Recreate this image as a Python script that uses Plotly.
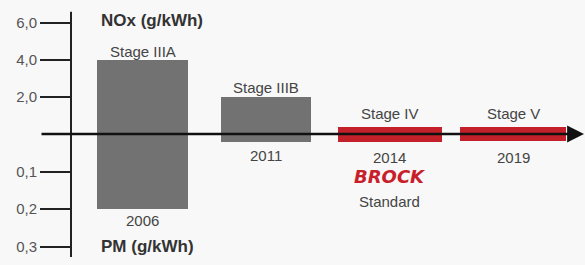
import plotly.graph_objects as go

# ---- data ----
stages = ["Stage IIIA", "Stage IIIB", "Stage IV", "Stage V"]
years = ["2006", "2011", "2014", "2019"]
nox = [4.0, 2.0, 0.4, 0.4]          # g/kWh (upwards)
pm = [0.2, 0.02, 0.02, 0.018]       # g/kWh (downwards)
nox_ticks = [2, 4, 6]
nox_ticktext = ["2,0", "4,0", "6,0"]
pm_ticks = [0.1, 0.2, 0.3]
pm_ticktext = ["0,1", "0,2", "0,3"]

# ---- styling / layout constants ----
W, H = 585, 265
bar_colors = ["#727272", "#727272", "#c3202a", "#c3202a"]
bar_widths = [0.74, 0.73, 0.84, 0.86]
x_range = [-1.155, 3.582]
nox_range = [-7.08, 7.24]
pm_range = [0.3493, -0.3573]  # reversed: PM grows downward
axis_pos = 71 / W
txt = "#444444"


def py(p):
    return 1 - p / H


def px(p):
    return p / W


fig = go.Figure()
fig.add_trace(go.Bar(x=stages, y=nox, width=bar_widths, marker=dict(color=bar_colors, line=dict(width=0)),
                     yaxis="y", hoverinfo="skip", showlegend=False))
fig.add_trace(go.Bar(x=stages, y=pm, width=bar_widths, marker=dict(color=bar_colors, line=dict(width=0)),
                     yaxis="y2", hoverinfo="skip", showlegend=False))

ann = []
# horizontal arrow axis
ann.append(dict(xref="x", yref="y", axref="x", ayref="y", x=3.574, y=0, ax=-0.831, ay=0,
                showarrow=True, arrowhead=2, arrowsize=1.3, arrowwidth=2.6, arrowcolor="#111111", text=""))
# stage labels
stage_y = [52, 88, 113, 113]
for s, yy in zip(stages, stage_y):
    ann.append(dict(xref="x", yref="paper", x=s, y=py(yy), text=s, showarrow=False, yanchor="middle",
                    font=dict(size=15, color=txt, family="Liberation Sans, Arial")))
year_y = [220, 155, 157, 157]
for s, yv, yy in zip(stages, years, year_y):
    ann.append(dict(xref="x", yref="paper", x=s, y=py(yy), text=yv, showarrow=False, yanchor="middle",
                    font=dict(size=15, color=txt, family="Liberation Sans, Arial")))
# axis titles
ann.append(dict(xref="paper", yref="paper", x=px(99), y=py(21), xanchor="left", yanchor="middle",
                text="<b>NOx (g/kWh)</b>", showarrow=False,
                font=dict(size=17, color="#333333", family="Liberation Sans, Arial")))
ann.append(dict(xref="paper", yref="paper", x=px(99), y=py(246), xanchor="left", yanchor="middle",
                text="<b>PM (g/kWh)</b>", showarrow=False,
                font=dict(size=17, color="#333333", family="Liberation Sans, Arial")))
# BROCK standard
ann.append(dict(xref="x", yref="paper", x="Stage IV", y=py(176), yanchor="middle",
                text="<b><i>BROCK</i></b>", showarrow=False,
                font=dict(size=18, color="#c8202a", family="DejaVu Sans")))
ann.append(dict(xref="x", yref="paper", x="Stage IV", y=py(201), yanchor="middle",
                text="Standard", showarrow=False,
                font=dict(size=15, color=txt, family="Liberation Sans, Arial")))

shapes = [dict(type="line", xref="paper", yref="y", x0=axis_pos, x1=axis_pos, y0=6.6, y1=-6.65,
               line=dict(color="#222222", width=2))]

tickfont = dict(size=15, color="#555555", family="Liberation Sans, Arial")
fig.update_layout(
    width=W, height=H, margin=dict(l=0, r=0, t=0, b=0),
    paper_bgcolor="#f8f8f8", plot_bgcolor="#f8f8f8",
    barmode="overlay", bargap=0,
    xaxis=dict(type="category", range=x_range, showgrid=False, zeroline=False, showline=False,
               showticklabels=False, ticks="", fixedrange=True),
    yaxis=dict(range=nox_range, anchor="free", position=axis_pos, side="left",
               tickvals=nox_ticks, ticktext=nox_ticktext, ticks="outside", ticklen=31,
               tickwidth=2, tickcolor="#222222", tickfont=tickfont, showgrid=False,
               zeroline=False, showline=False, automargin=False, ticklabelstandoff=0),
    yaxis2=dict(range=pm_range, overlaying="y", anchor="free", position=axis_pos, side="left",
                tickvals=pm_ticks, ticktext=pm_ticktext, ticks="outside", ticklen=31,
                tickwidth=2, tickcolor="#222222", tickfont=tickfont, showgrid=False,
                zeroline=False, showline=False, automargin=False, ticklabelstandoff=0),
    annotations=ann, shapes=shapes, showlegend=False,
)
fig.write_html("out.html", config={"displayModeBar": False},
               post_script="document.body.style.margin='0px';document.body.style.overflow='hidden';")
